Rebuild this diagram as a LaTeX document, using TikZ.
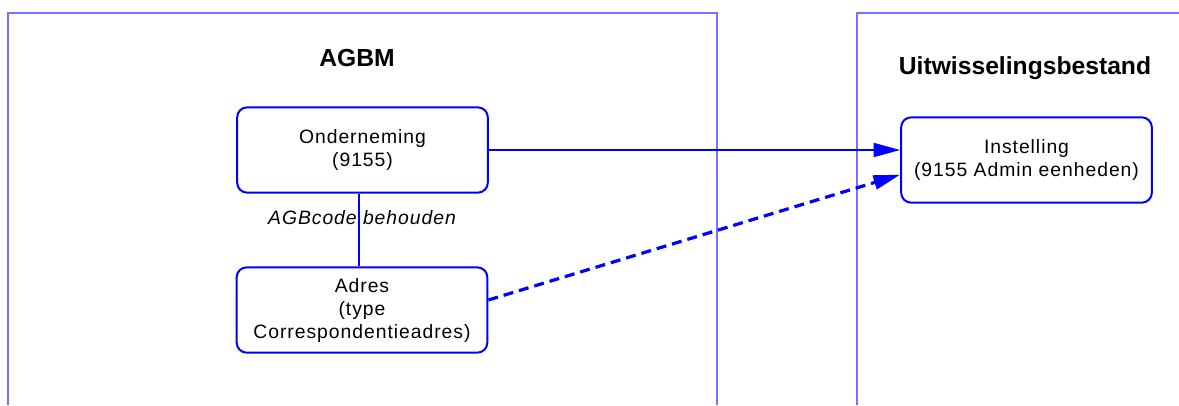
\documentclass[tikz,border=0pt]{standalone}
\usepackage{fontspec}
\setmainfont{Liberation Sans}
\usetikzlibrary{arrows.meta,calc}
\newcommand{\clrline}{blue}
\newcommand{\clrframe}{blue!55}
\newfontfamily\spacedfont[LetterSpace=5]{Liberation Sans}

\begin{document}
\begin{tikzpicture}[x=0.75pt,y=-0.75pt,
    entity/.style={draw=\clrline, line width=1.5pt, rounded corners=7.5pt,
        align=center, font=\spacedfont\fontsize{14.5}{17.25}\selectfont,
        minimum width=188pt, minimum height=64pt, inner sep=2pt},
    title/.style={font=\fontsize{18.5}{22}\selectfont\bfseries, anchor=base},
    frame/.style={draw=\clrframe, line width=0.8pt},
    link/.style={draw=\clrline, line width=1.5pt},
    flow/.style={-{Triangle[length=20pt,width=10.5pt]}, \clrline, line width=1.5pt},
    dflow/.style={flow, line width=2.4pt, dash pattern=on 7.5pt off 4.5pt}]

        \useasboundingbox (0,0) rectangle (1179,405);

        % swimlanes
        \draw[frame] (8,405) |- (717,13) -- (717,405);
        \draw[frame] (1179,13) -| (857,405);

        \node[title] (agbm) at (357,66) {AGBM};
        \node[title] (uitw) at (1025,74) {Uitwisselingsbestand};

        % entities
        \node[entity] (onder) at (362.5,150) {Onderneming\\(9155)};
        \node[entity] (adres) at (362,310) {Adres\\(type\\Correspondentieadres)};
        \node[entity] (inst) at (1026.5,160) {Instelling\\(9155 Admin eenheden)};

        \draw[link] (onder.south -| 359,0) -- (adres.north -| 359,0);
        \node[font=\spacedfont\fontsize{14.5}{17.25}\selectfont\itshape, anchor=base] (behoud) at (362,224) {AGBcode behouden};

        \draw[flow] (onder.east) -- (onder.east -| inst.west);
        \draw[dflow] ([yshift=7.5pt]adres.east) -- ([yshift=-11pt]inst.west);

\end{tikzpicture}
\end{document}
